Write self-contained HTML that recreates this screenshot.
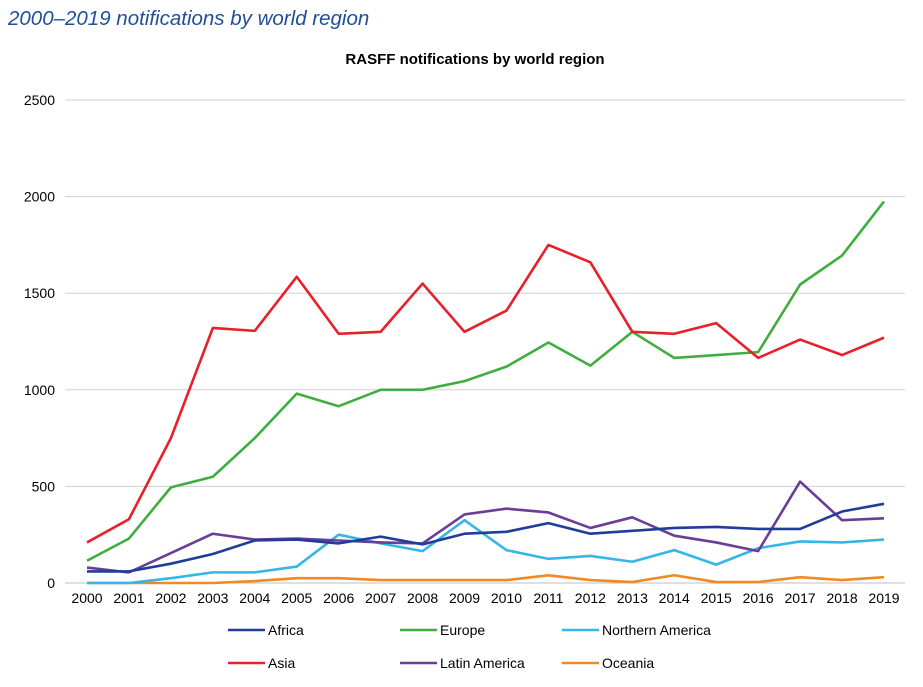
<!DOCTYPE html>
<html><head><meta charset="utf-8"><style>
body{margin:0;background:#fff;width:923px;height:682px;overflow:hidden;font-family:"Liberation Sans",sans-serif}
</style></head><body>
<svg id="chart" width="923" height="682" xmlns="http://www.w3.org/2000/svg">
<text x="8" y="25" font-size="20.5" font-style="italic" fill="#1f4e9c">2000–2019 notifications by world region</text>
<text x="475" y="64" font-size="15" font-weight="bold" text-anchor="middle" fill="#000">RASFF notifications by world region</text>
<g id="grid"></g><g id="xaxis"></g><g id="series"></g><g id="legend"></g>
</svg>
<script>
const years=[2000,2001,2002,2003,2004,2005,2006,2007,2008,2009,2010,2011,2012,2013,2014,2015,2016,2017,2018,2019];
const yTicks=[0,500,1000,1500,2000,2500];
const africa=[60,60,100,150,220,225,205,240,200,255,265,310,255,270,285,290,280,280,370,410];
const europe=[115,230,495,550,750,980,915,1000,1000,1045,1120,1245,1125,1300,1165,1180,1195,1545,1695,1975];
const northAmerica=[0,0,25,55,55,85,250,205,165,325,170,125,140,110,170,95,180,215,210,225];
const asia=[210,330,750,1320,1305,1585,1290,1300,1550,1300,1410,1750,1660,1300,1290,1345,1165,1260,1180,1270];
const latinAmerica=[80,55,155,255,225,230,220,210,205,355,385,365,285,340,245,210,165,525,325,335];
const oceania=[0,0,0,0,10,25,25,15,15,15,15,40,15,5,40,5,5,30,15,30];
const seriesNames=["Africa","Europe","Northern America","Asia","Latin America","Oceania"];
const seriesData=[africa,europe,northAmerica,asia,latinAmerica,oceania];
const colors=["#1f3d99","#3fae3f","#35b5e8","#e8202a","#6b3d96","#f08a24"];
const NS="http://www.w3.org/2000/svg";
const x=i=>87+i*(884-87)/(years.length-1);
const y=v=>583-v*(583-100)/2500;
function mk(t,a,p){const e=document.createElementNS(NS,t);for(const k in a)e.setAttribute(k,a[k]);p.appendChild(e);return e;}
const grid=document.getElementById('grid');
yTicks.forEach(v=>{
 if(v>0){const l=mk('line',{x1:65,x2:905,y1:y(v),y2:y(v),stroke:'#d0d0d0','stroke-width':1},grid);
 
 }
 const t=mk('text',{x:55,y:y(v)+5,'font-size':14,'text-anchor':'end',fill:'#000'},grid);t.textContent=v;
 
 
});
const xa=document.getElementById('xaxis');
const ax=mk('line',{x1:65,x2:905,y1:583,y2:583,stroke:'#bfbfbf','stroke-width':1},xa);


years.forEach((yr,i)=>{const t=mk('text',{x:x(i),y:603,'font-size':14,'text-anchor':'middle',fill:'#000'},xa);t.textContent=yr;
 
 });
const sg=document.getElementById('series');
const order=[5,2,4,0,1,3];
order.forEach(s=>{const pts=seriesData[s].map((v,i)=>x(i)+','+y(v)).join(' ');
 const p=mk('polyline',{points:pts,fill:'none',stroke:colors[s],'stroke-width':2.6,'stroke-linejoin':'round'},sg);
 
 });
const lg=document.getElementById('legend');
const lx=[228,400,562],ly=[630,663];
seriesNames.forEach((n,s)=>{const cx=lx[s%3],cy=ly[Math.floor(s/3)];
 const g=mk('g',{},lg);
 
 
 mk('line',{x1:cx,x2:cx+37,y1:cy,y2:cy,stroke:colors[s],'stroke-width':2.6},g);
 const t=mk('text',{x:cx+40,y:cy+5,'font-size':14,fill:'#000'},g);t.textContent=n;});
</script>
</body></html>
